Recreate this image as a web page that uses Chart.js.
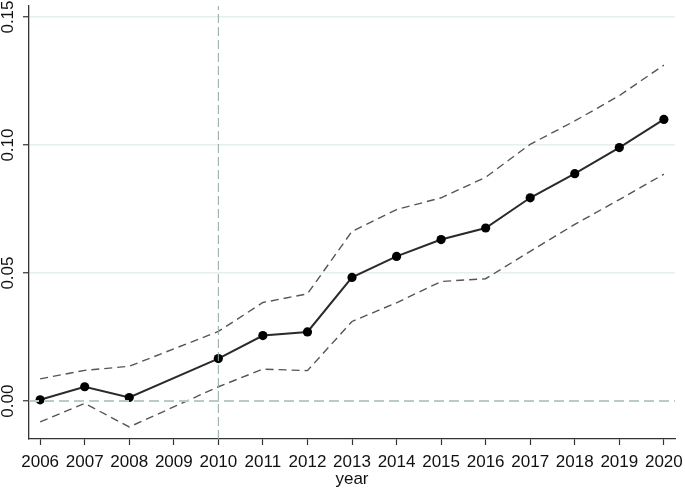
<!DOCTYPE html>
<html>
<head>
<meta charset="utf-8">
<script src="https://cdn.jsdelivr.net/npm/chart.js@4/dist/chart.umd.min.js"></script>
<style>
html,body{margin:0;padding:0;background:#fff;}
#wrap{position:relative;width:685px;height:490px;}
</style>
</head>
<body>
<div id="wrap"><canvas id="c" width="685" height="490"></canvas></div>
<script>
const years = [2006,2007,2008,2009,2010,2011,2012,2013,2014,2015,2016,2017,2018,2019,2020];
const estimate = [0.0005,0.0056,0.0014,null,0.0166,0.0256,0.0270,0.0483,0.0565,0.0631,0.0676,0.0794,0.0888,0.0990,0.1100];
const upperCI  = [0.0087,0.0120,0.0136,null,0.0272,0.0385,0.0419,0.0663,0.0748,0.0794,0.0874,0.1003,0.1094,0.1193,0.1312];
const lowerCI  = [-0.0081,-0.0009,-0.0101,null,0.0056,0.0125,0.0119,0.0311,0.0384,0.0467,0.0478,0.0585,0.0690,0.0787,0.0886];
const yTicks = [0,0.05,0.10,0.15];
const xTickLabels = years.map(String);
const refYear = 2010;
const xMin = 2005.75, xMax = 2020.25, yMin = -0.0148, yMax = 0.1543;

const pts = arr => years.map((yr,i)=>({x:yr,y:arr[i]}));
const font = {family:'"Liberation Sans", Arial, sans-serif', size:17};

new Chart(document.getElementById('c'), {
  type:'line',
  data:{datasets:[
    {label:'zero', data:[{x:xMin,y:0},{x:xMax,y:0}], borderColor:'#b9cbc4', borderWidth:2, borderDash:[10,5], pointRadius:0, fill:false},
    {label:'ref', data:[{x:refYear,y:yMin},{x:refYear,y:yMax}], borderColor:'#8fa9a0', borderWidth:1, borderDash:[9,4], pointRadius:0, fill:false},
    {label:'upper', data:pts(upperCI), borderColor:'#555', borderWidth:1.4, borderDash:[8,5], pointRadius:0, spanGaps:true, tension:0},
    {label:'lower', data:pts(lowerCI), borderColor:'#555', borderWidth:1.4, borderDash:[8,5], pointRadius:0, spanGaps:true, tension:0},
    {label:'estimate', data:pts(estimate), borderColor:'#2a2a2a', borderWidth:2, pointRadius:4.6, pointBackgroundColor:'#000', pointBorderColor:'#000', pointBorderWidth:0, spanGaps:true, tension:0}
  ]},
  options:{
    responsive:false, animation:false, devicePixelRatio:1,
    layout:{padding:{left:0,right:10,top:6,bottom:0}},
    plugins:{legend:{display:false}, tooltip:{enabled:false}},
    scales:{
      x:{type:'linear', min:xMin, max:xMax,
        afterBuildTicks:s=>{s.ticks = years.map(v=>({value:v}));},
        afterFit:s=>{s.height = 51; s.paddingLeft = 0; s.paddingRight = 0;},
        ticks:{font, color:'#111', padding:7, maxRotation:0, autoSkip:false, callback:(v, i)=>xTickLabels[i]},
        grid:{drawOnChartArea:false, drawTicks:true, tickLength:6, color:'#333', tickWidth:1.2},
        border:{color:'#333', width:1.3},
        title:{display:true, text:'year', font, color:'#111', padding:{top:0,bottom:0}}
      },
      y:{type:'linear', min:yMin, max:yMax,
        afterBuildTicks:s=>{s.ticks = yTicks.map(v=>({value:v}));},
        afterFit:s=>{s.width = 29; s.paddingTop = 0; s.paddingBottom = 0;},
        ticks:{font, color:'#111', padding:-2, minRotation:90, maxRotation:90, crossAlign:'center', callback:(v)=>v.toFixed(2)},
        grid:{drawTicks:true, tickLength:6, tickColor:'#333', tickWidth:1.2, color:(c)=> (c.tick && c.tick.value===0) ? 'rgba(0,0,0,0)' : '#e7eef0', lineWidth:1.5},
        border:{color:'#333', width:1.3}
      }
    }
  }
});
</script>
</body>
</html>
